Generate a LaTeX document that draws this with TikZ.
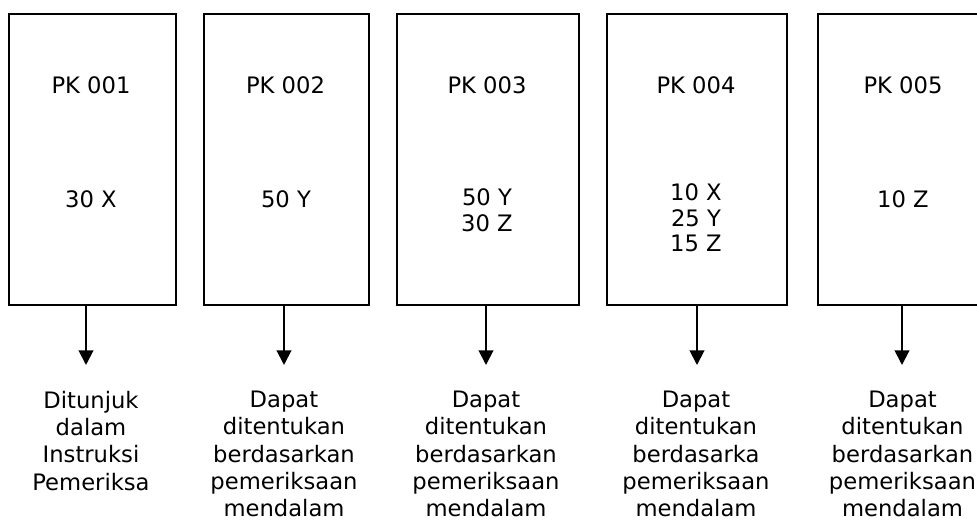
\documentclass[tikz,border=0pt]{standalone}
\usepackage{fontspec}
\setmainfont{DejaVu Sans}
\usetikzlibrary{arrows.meta}
\begin{document}
\begin{tikzpicture}[x=0.75pt,y=-0.75pt,
  box/.style={draw,line width=1.9pt,minimum height=218.25pt,inner sep=0pt},
  lbl/.style={inner sep=0pt,font=\fontsize{17pt}{19.2pt}\selectfont,align=center},
  note/.style={inner sep=0pt,anchor=north,font=\fontsize{17pt}{20.4pt}\selectfont,align=center},
  arr/.style={line width=1.5pt,-{Triangle[width=11pt,length=11pt]}}]
\clip (0,0) rectangle (977,520);
% boxes
\node[box,minimum width=125.25pt] (b1) at (92.4,159.5) {};
\node[box,minimum width=123.75pt] (b2) at (286.5,159.5) {};
\node[box,minimum width=136.5pt] (b3) at (488,159.5) {};
\node[box,minimum width=135pt] (b4) at (697,159.5) {};
\node[box,minimum width=127.5pt] (b5) at (903,159.5) {};
% box texts
\node[lbl] (p1) at (91,85) {PK 001};
\node[lbl] (q1) at (91,199) {30 X};
\node[lbl] (p2) at (285.5,85) {PK 002};
\node[lbl] (q2) at (286,199) {50 Y};
\node[lbl] (p3) at (487,85) {PK 003};
\node[lbl] (q3) at (487,210.5) {50 Y\\30 Z};
\node[lbl] (p4) at (696,85) {PK 004};
\node[lbl] (q4) at (696,218) {10 X\\25 Y\\15 Z};
\node[lbl] (p5) at (903,85) {PK 005};
\node[lbl] (q5) at (903,199) {10 Z};
% arrow ends
\coordinate (a1) at (86,365);
\coordinate (a2) at (284,365);
\coordinate (a3) at (486,365);
\coordinate (a4) at (697,365);
\coordinate (a5) at (902,365);
\draw[arr] (b1.south -| a1) -- (a1);
\draw[arr] (b2.south -| a2) -- (a2);
\draw[arr] (b3.south -| a3) -- (a3);
\draw[arr] (b4.south -| a4) -- (a4);
\draw[arr] (b5.south -| a5) -- (a5);
% notes
\node[note] (t1) at (91,391) {Ditunjuk\\dalam\\Instruksi\\Pemeriksa};
\node[note] (t2) at (284,391) {Dapat\\ditentukan\\berdasarkan\\pemeriksaan\\mendalam};
\node[note] (t3) at (486,391) {Dapat\\ditentukan\\berdasarkan\\pemeriksaan\\mendalam};
\node[note] (t4) at (696,391) {Dapat\\ditentukan\\berdasarka\\pemeriksaan\\mendalam};
\node[note] (t5) at (902.5,391) {Dapat\\ditentukan\\berdasarkan\\pemeriksaan\\mendalam};
\end{tikzpicture}
\end{document}
